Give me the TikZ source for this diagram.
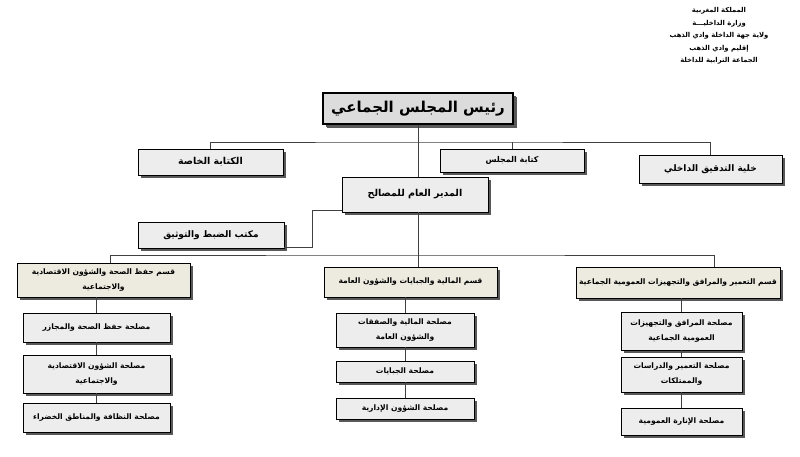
\documentclass[tikz,border=0pt]{standalone}
\usepackage{fontspec}
\usepackage{xcolor}
\usepackage{tikz}
\usetikzlibrary{shapes,positioning,shadows,calc}
\newfontfamily\arabicfont[Script=Arabic]{DejaVu Sans}
\TeXXeTstate=1
\newcommand{\artxt}[1]{\beginR #1\endR}
\definecolor{boxgray}{HTML}{EDEDED}
\definecolor{headgray}{HTML}{DCDCDC}
\definecolor{divbeige}{HTML}{EDEBE0}
\definecolor{linegray}{HTML}{404040}

\begin{document}
\begin{tikzpicture}[
    x=1pt, y=-1pt,
    unit/.style={draw, fill=boxgray, inner sep=1pt, align=center, font=\arabicfont\bfseries\fontsize{8}{12}\selectfont,
        drop shadow={shadow xshift=2.5pt, shadow yshift=-2.5pt, fill=black!65, opacity=1}},
    division/.style={unit, fill=divbeige, font=\arabicfont\bfseries\fontsize{7.6}{15}\selectfont},
    service/.style={unit, font=\arabicfont\bfseries\fontsize{7.6}{15}\selectfont},
    link/.style={draw=linegray, line width=0.8pt}
]
    \useasboundingbox (0,0) rectangle (800,456);

    % Header
    \node[align=center, font=\arabicfont\bfseries\fontsize{6.8}{12.6}\selectfont] (state) at (719,36)
        {\artxt{المملكة المغربية}\\\artxt{وزارة الداخليـــة}\\\artxt{ولاية جهة الداخلة وادي الذهب}\\\artxt{إقليم وادي الذهب}\\\artxt{الجماعة الترابية للداخلة}};

    % Top levels
    \node[unit, fill=headgray, line width=1.2pt, minimum width=190pt, minimum height=31pt, font=\arabicfont\bfseries\fontsize{15}{18}\selectfont,
        drop shadow={shadow xshift=3.5pt, shadow yshift=-3.5pt, fill=black!65, opacity=1}] (head) at (418,108.5) {\artxt{رئيس المجلس الجماعي}};
    \node[unit, minimum width=145pt, minimum height=26pt, font=\arabicfont\bfseries\fontsize{9.5}{12}\selectfont] (secretariat) at (210.5,162) {\artxt{الكتابة الخاصة}};
    \node[unit, minimum width=144pt, minimum height=23pt] (council) at (512,160.5) {\artxt{كتابة المجلس}};
    \node[unit, minimum width=143pt, minimum height=28pt, font=\arabicfont\bfseries\fontsize{9}{12}\selectfont] (audit) at (710.5,169) {\artxt{خلية التدقيق الداخلي}};
    \node[unit, minimum width=146pt, minimum height=35pt, font=\arabicfont\bfseries\fontsize{9.5}{12}\selectfont] (director) at (415,194.5) {\artxt{المدير العام للمصالح}};
    \node[unit, minimum width=146pt, minimum height=26pt, font=\arabicfont\bfseries\fontsize{9}{12}\selectfont] (registry) at (211,235) {\artxt{مكتب الضبط والتوثيق}};

    % Divisions
    \node[division, minimum width=173pt, minimum height=34pt] (divhealth) at (103.5,280) {\artxt{قسم حفظ الصحة والشؤون الاقتصادية}\\\artxt{والاجتماعية}};
    \node[division, minimum width=173pt, minimum height=30pt] (divfinance) at (410.5,282) {\artxt{قسم المالية والجبايات والشؤون العامة}};
    \node[division, minimum width=204pt, minimum height=31pt] (divplanning) at (678,282.5) {\artxt{قسم التعمير والمرافق والتجهيزات العمومية الجماعية}};

    % Services
    \node[service, minimum width=147pt, minimum height=29pt] (hygiene) at (96.5,327.5) {\artxt{مصلحة حفظ الصحة والمجازر}};
    \node[service, minimum width=147pt, minimum height=38pt] (economy) at (96.5,374) {\artxt{مصلحة الشؤون الاقتصادية}\\\artxt{والاجتماعية}};
    \node[service, minimum width=147pt, minimum height=29pt] (cleaning) at (96.5,417.5) {\artxt{مصلحة النظافة والمناطق الخضراء}};

    \node[service, minimum width=138pt, minimum height=34pt] (finance) at (405,330) {\artxt{مصلحة المالية والصفقات}\\\artxt{والشؤون العامة}};
    \node[service, minimum width=138pt, minimum height=21pt] (taxes) at (405,371.5) {\artxt{مصلحة الجبايات}};
    \node[service, minimum width=138pt, minimum height=21pt] (admin) at (405,408.5) {\artxt{مصلحة الشؤون الإدارية}};

    \node[service, minimum width=121pt, minimum height=38pt] (equipment) at (681.5,331) {\artxt{مصلحة المرافق والتجهيزات}\\\artxt{العمومية الجماعية}};
    \node[service, minimum width=121pt, minimum height=35pt] (urbanism) at (681.5,374.5) {\artxt{مصلحة التعمير والدراسات}\\\artxt{والممتلكات}};
    \node[service, minimum width=121pt, minimum height=27pt] (lighting) at (681.5,421.5) {\artxt{مصلحة الإنارة العمومية}};

    \coordinate (bus1) at (418,142);
    \coordinate (bus2) at (418,255);

    % Upper links
    \draw[link] (head.south) -- (head.south |- director.north);
    \draw[link] (secretariat.north) |- (bus1) -| (audit.north);
    \draw[link] (council.north) -- (council.north |- bus1);
    \draw[link] ([yshift=2pt]director.south west) -- ++(-29,0) |- ([yshift=1pt]registry.south east);

    % Division links
    \draw[link] (head.south |- director.south) -- (bus2);
    \draw[link] ([xshift=7pt]divhealth.north) |- (bus2) -| ([xshift=36pt]divplanning.north);
    \draw[link] (bus2) -- (bus2 |- divfinance.north);

    % Service links
    \draw[link] (hygiene.north) -- (hygiene.north |- divhealth.south);
    \draw[link] (economy.north) -- (hygiene.south);
    \draw[link] (cleaning.north) -- (economy.south);
    \draw[link] (finance.north) -- (finance.north |- divfinance.south);
    \draw[link] (taxes.north) -- (finance.south);
    \draw[link] (admin.north) -- (taxes.south);
    \draw[link] (equipment.north) -- (equipment.north |- divplanning.south);
    \draw[link] (urbanism.north) -- (equipment.south);
    \draw[link] (lighting.north) -- (urbanism.south);
\end{tikzpicture}
\end{document}
